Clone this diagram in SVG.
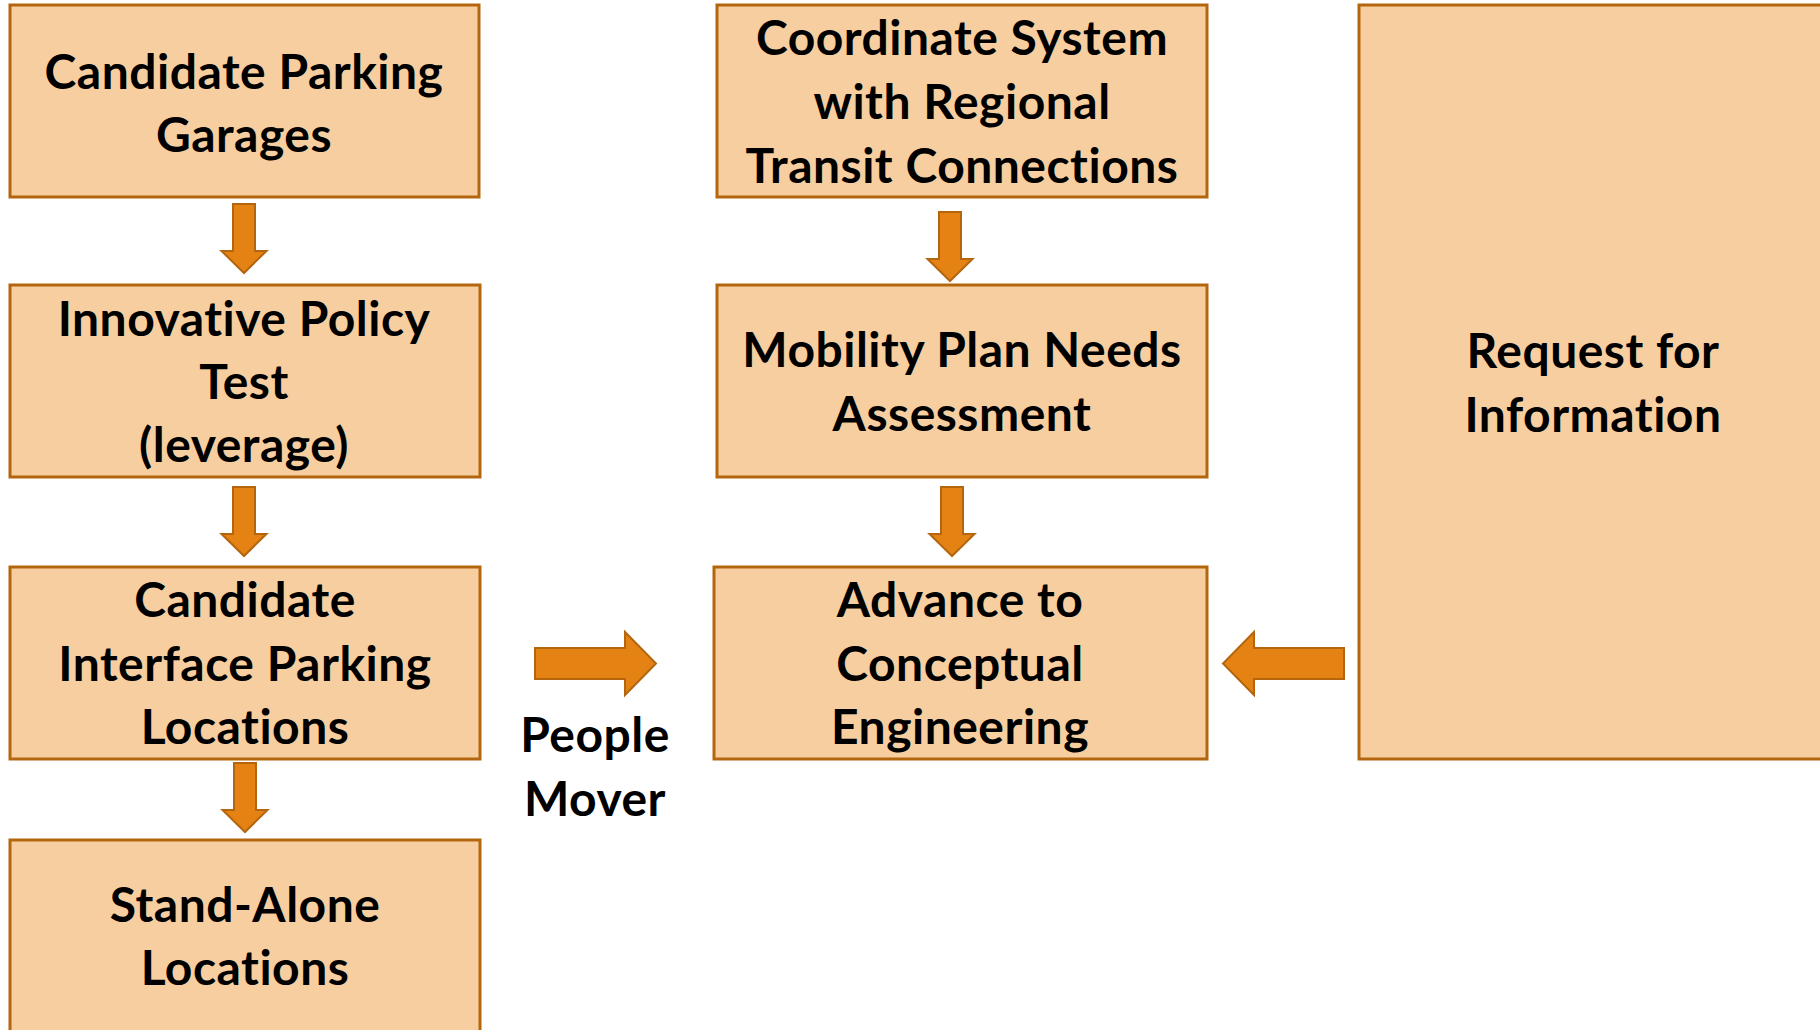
<svg xmlns="http://www.w3.org/2000/svg" width="1820" height="1030" viewBox="0 0 1820 1030">
  <style>
    .box { fill: #F7CE9F; stroke: #B4660F; stroke-width: 3; }
    .arrow { fill: #E48214; stroke: #B4660F; stroke-width: 2; stroke-linejoin: miter; }
    .label { font-family: Lato, "Liberation Sans", sans-serif; font-weight: bold; font-size: 48px; letter-spacing: 0.5px; fill: #000; text-anchor: middle; }
  </style>
  <defs>
    <!-- block arrows drawn pointing down / right, origin at the tip -->
    <path id="arrowDown" d="M-11,-69 L11,-69 L11,-22 L22.5,-22 L0,0 L-22.5,-22 L-11,-22 Z"/>
    <path id="arrowRight" d="M-121,-15.5 L-31,-15.5 L-31,-31.5 L0,0 L-31,31.5 L-31,15.5 L-121,15.5 Z"/>
  </defs>

  <rect width="1820" height="1030" fill="#ffffff"/>

  <!-- left column -->
  <g id="candidate-parking-garages">
    <rect class="box" x="10" y="5" width="469" height="192"/>
    <text class="label" x="244" y="89">Candidate Parking</text>
    <text class="label" x="244" y="152">Garages</text>
  </g>
  <g id="innovative-policy-test">
    <rect class="box" x="10" y="285" width="470" height="192"/>
    <text class="label" x="244" y="336">Innovative Policy</text>
    <text class="label" x="244" y="399">Test</text>
    <text class="label" x="244" y="462">(leverage)</text>
  </g>
  <g id="candidate-interface-parking">
    <rect class="box" x="10" y="567" width="470" height="192"/>
    <text class="label" x="245" y="617">Candidate</text>
    <text class="label" x="245" y="681">Interface Parking</text>
    <text class="label" x="245" y="744">Locations</text>
  </g>
  <g id="stand-alone-locations">
    <rect class="box" x="10" y="840" width="470" height="200"/>
    <text class="label" x="245" y="922">Stand-Alone</text>
    <text class="label" x="245" y="985">Locations</text>
  </g>

  <g id="people-mover-label">
    <text class="label" x="595" y="752">People</text>
    <text class="label" x="595" y="816">Mover</text>
  </g>

  <!-- middle column -->
  <g id="coordinate-system">
    <rect class="box" x="717" y="5" width="490" height="192"/>
    <text class="label" x="962" y="55">Coordinate System</text>
    <text class="label" x="962" y="119">with Regional</text>
    <text class="label" x="962" y="183">Transit Connections</text>
  </g>
  <g id="mobility-plan">
    <rect class="box" x="717" y="285" width="490" height="192"/>
    <text class="label" x="962" y="367">Mobility Plan Needs</text>
    <text class="label" x="962" y="431">Assessment</text>
  </g>
  <g id="advance-conceptual-engineering">
    <rect class="box" x="714" y="567" width="493" height="192"/>
    <text class="label" x="960" y="617">Advance to</text>
    <text class="label" x="960" y="681">Conceptual</text>
    <text class="label" x="960" y="744">Engineering</text>
  </g>

  <!-- right column -->
  <g id="request-for-information">
    <rect class="box" x="1359" y="5" width="480" height="754"/>
    <text class="label" x="1593" y="368">Request for</text>
    <text class="label" x="1593" y="432">Information</text>
  </g>

  <!-- connectors -->
  <g id="connectors">
    <use href="#arrowDown" class="arrow" x="244" y="273"/>
    <use href="#arrowDown" class="arrow" x="244" y="556"/>
    <use href="#arrowDown" class="arrow" x="245" y="832"/>
    <use href="#arrowDown" class="arrow" x="950" y="281"/>
    <use href="#arrowDown" class="arrow" x="952" y="556"/>
    <use href="#arrowRight" class="arrow" x="656" y="663.5"/>
    <use href="#arrowRight" class="arrow" transform="translate(1223,663.5) scale(-1,1)"/>
  </g>
</svg>
